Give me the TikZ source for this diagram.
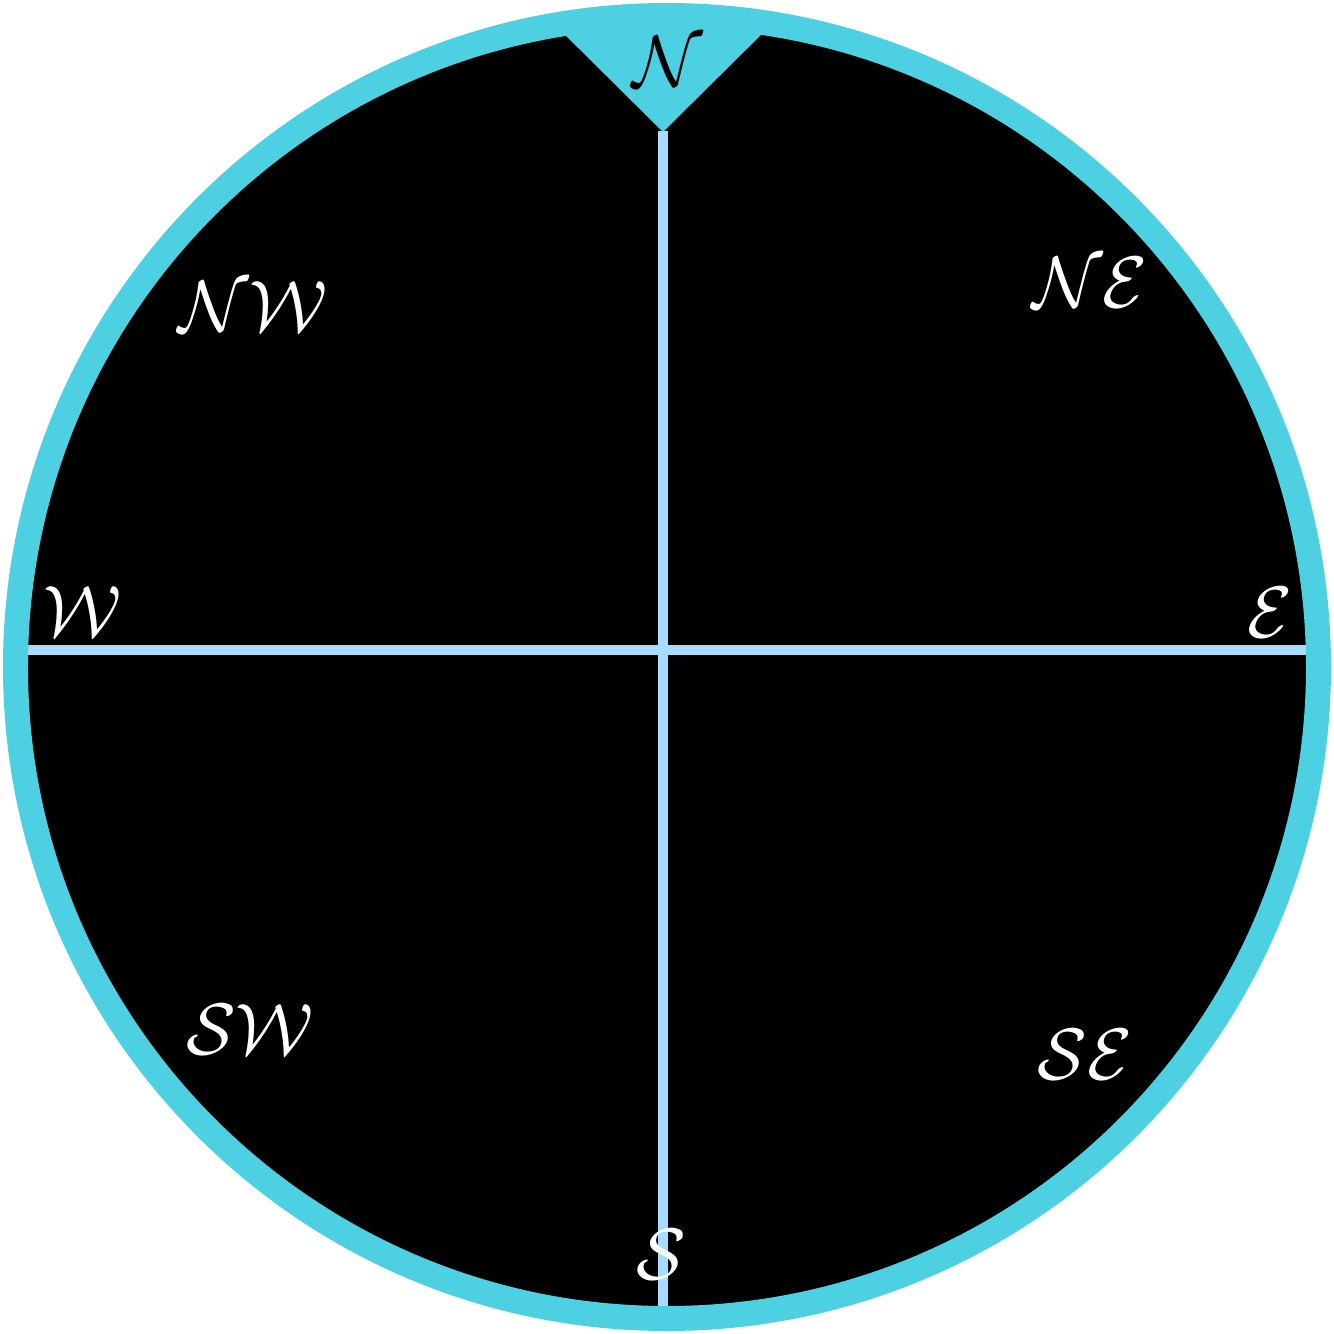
\documentclass[tikz,border=0pt]{standalone}
\usepackage{xcolor}
\usepackage{tikz}
\usetikzlibrary{positioning}

\definecolor{ringcyan}{RGB}{77,208,225}
\definecolor{axisblue}{RGB}{168,220,254}

\begin{document}
\begin{tikzpicture}[
    ring/.style={draw=ringcyan, line width=0.25cm},
    axis/.style={draw=axisblue, line width=0.105cm},
    dir/.style={font=\fontsize{22}{26}\selectfont, text=white, inner sep=0pt}
  ]
  \useasboundingbox (-6.67,-6.67) rectangle (6.67,6.67);

  % face and north marker
  \fill[black] (0,0) circle (6.52);
  \coordinate (tip) at (-0.04,5.35);
  \fill[ringcyan] (-1.15,6.45) -- (tip) -- (1.07,6.45) -- cycle;

  % axes
  \coordinate (top) at (-0.04,5.36);
  \coordinate (bot) at (-0.04,-6.45);
  \coordinate (lft) at (-6.45,0.17);
  \coordinate (rgt) at (6.45,0.17);
  \draw[axis] (top) -- (bot);
  \draw[axis] (lft) -- (rgt);

  \draw[ring] (0,0) circle (6.515);

  % directions
  \node[dir, text=black] (lblN) at (0.01,6.05) {$\mathcal{N}$};
  \node[dir] (lblNE) at (4.23,3.84) {$\mathcal{NE}$};
  \node[dir] (lblE) at (6.03,0.54) {$\mathcal{E}$};
  \node[dir] (lblSE) at (4.18,-3.88) {$\mathcal{SE}$};
  \node[dir] (lblS) at (-0.06,-5.88) {$\mathcal{S}$};
  \node[dir] (lblSW) at (-4.17,-3.63) {$\mathcal{SW}$};
  \node[dir] (lblW) at (-5.84,0.55) {$\mathcal{W}$};
  \node[dir] (lblNW) at (-4.14,3.60) {$\mathcal{NW}$};
\end{tikzpicture}
\end{document}
